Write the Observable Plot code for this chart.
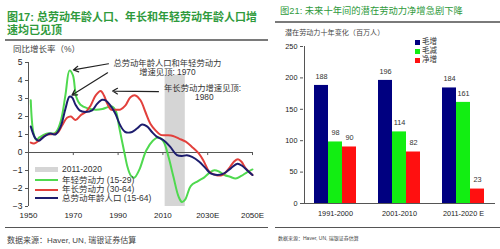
<!DOCTYPE html>
<html><head><meta charset="utf-8">
<script src="https://cdn.jsdelivr.net/npm/d3@7"></script>
<script src="https://cdn.jsdelivr.net/npm/@observablehq/plot@0.6"></script>
<style>
body{margin:0;background:#fff;}
#wrap{position:relative;width:500px;height:249px;overflow:hidden;background:#fff;font-family:"Liberation Sans","Noto Sans CJK SC",sans-serif;color:#333;}
.abs{position:absolute;white-space:nowrap;}
.rule{position:absolute;}
svg{position:absolute;}
</style></head><body><div id="wrap">
<div class="abs" style="left:7px;top:11px;font-size:11px;line-height:12.5px;font-weight:bold;color:#2f9a3c;">图17: 总劳动年龄人口、年长和年轻劳动年龄人口增<br>速均已见顶</div>
<div class="rule" style="left:5px;top:39px;width:263px;height:2px;background:#7a7a7a;"></div>
<div class="abs" style="left:13px;top:44px;font-size:8.5px;line-height:11px;color:#444;">同比增长率（%）</div>
<div class="abs" style="left:280px;top:5px;font-size:9.3px;line-height:12px;color:#2f9a3c;">图21: 未来十年间的潜在劳动力净增急剧下降</div>
<div class="rule" style="left:275px;top:21px;width:225px;height:2px;background:#7a7a7a;"></div>
<div class="abs" style="left:285px;top:28px;font-size:7.1px;line-height:10px;color:#444;">潜在劳动力十年变化（百万人）</div>
<div id="left"></div><div id="right"></div>
<div id="legL"></div><div id="legR"></div>
<div class="rule" style="left:5px;top:227px;width:263px;height:1px;background:#555;"></div>
<div class="rule" style="left:275px;top:227px;width:225px;height:1px;background:#555;"></div>
<div class="abs" style="left:7px;top:236px;font-size:8px;line-height:10px;color:#444;">数据来源：Haver, UN, 瑞银证券估算</div>
<div class="abs" style="left:278px;top:234px;font-size:5px;line-height:8px;color:#444;">数据来源：Haver, UN, 瑞银证券估算</div>
</div>
<script>
// ---------- left chart data ----------
const youngYears = [1951,1952.2,1953.5,1955,1958,1962,1964.3,1966.5,1968.3,1969.8,1971.3,1973.2,1976.5,1980,1983,1985.5,1987.5,1989,1990.5,1992.8,1994.3,1995.8,1997.2,1999.5,2002.5,2005.5,2008,2010.3,2012.5,2014.7,2017,2018.5,2020,2022.5,2025.5,2028.5,2031,2033,2035.2,2037.5,2040,2042.5,2045,2047.5,2050];
const youngVals  = [2.9,1.1,0.7,0.85,1.05,1.1,1.7,3.2,4.55,4.3,3.1,2.65,2.45,2.38,2.42,2.52,2.55,2.3,1.4,0.0,-0.85,-1.3,-1.4,-0.95,0.1,0.65,0.85,0.6,-0.24,-1.35,-2.45,-2.75,-2.6,-1.85,-1.6,-1.38,-1.1,-0.98,-1.07,-1.25,-1.35,-1.44,-1.3,-1.1,-0.94];
const oldYears = [1951,1952.5,1955,1958,1961,1963,1965,1967.2,1969,1971,1973.2,1975.5,1977.7,1980,1982.2,1983.7,1985.2,1986.8,1989,1991,1993.2,1995.5,1997.7,2000,2002.2,2004.4,2006.7,2009,2011.5,2014.5,2017.2,2020.2,2023,2026,2028.3,2030.6,2033.5,2036.5,2039.5,2041.8,2043.5,2045,2047,2050];
const oldVals  = [0.55,0.5,0.7,0.98,1.02,1.1,1.5,1.93,2.0,1.8,2.06,2.25,2.6,3.17,3.42,3.17,2.7,2.38,2.38,2.38,2.6,3.07,3.17,2.9,2.25,1.6,1.23,0.98,0.96,0.92,0.77,0.6,0.31,-0.05,-0.5,-1.05,-1.25,-1.25,-0.88,-0.5,-0.38,-0.5,-0.88,-1.25];
const totalYears = [1951,1953,1954.6,1956.8,1959.8,1962,1964.3,1966.5,1968.3,1969.5,1971,1972.8,1975.4,1978.4,1980.6,1982.9,1984.4,1986.6,1988.8,1991,1993.2,1996.2,1998.4,2000.7,2002.9,2005.1,2007.4,2010.3,2013.3,2016.3,2018.5,2020.7,2023,2026.1,2029.1,2031.3,2034.3,2037.3,2040.3,2043.3,2045.5,2047.7,2050];
const totalVals  = [1.45,0.8,0.65,0.87,1.05,1.0,1.42,2.43,3.1,3.05,2.65,2.34,2.25,2.34,2.7,2.93,2.9,2.6,2.15,1.5,1.14,1.14,1.33,1.55,1.45,1.14,0.87,0.68,0.31,-0.15,-0.2,-0.15,-0.24,-0.5,-0.88,-1.16,-1.25,-1.16,-0.88,-0.62,-0.75,-1.0,-1.25];
const xTickYears = [1950,1970,1990,2010,2030,2050];
const xTickLabels = ["1950","1970","1990","2010","2030E","2050E"];
const yTicksLeft = [-3,-2,-1,0,1,2,3,4,5];
const shadeBand = [{start:2011, end:2020, top:4.3, label:"2011-2020"}];
const seriesLabels = ["年轻劳动力 (15-29)","年长劳动力 (30-64)","总劳动年龄人口 (15-64)"];
const annotationLines = [
  {x:2012, y:4.98, text:"总劳动年龄人口和年轻劳动力"},
  {x:2012, y:4.47, text:"增速见顶: 1970"},
  {x:2027.7, y:3.57, text:"年长劳动力增速见顶:"},
  {x:2028.5, y:3.05, text:"1980"}
];
const arrowStarts = [{x:1985.7,y:4.93},{x:1985.3,y:4.43},{x:2008,y:3.38}];

// ---------- right chart data ----------
const periods = ["1991-2000","2001-2010","2011-2020 E"];
const barSeries = ["毛增","毛减","净增"];
const grossAdd = [188,196,184];
const grossLoss = [98,114,161];
const netAdd = [90,82,23];
const yTicksRight = [0,50,100,150,200,250];

const colGreen="#4fd94f", colRed="#e2403c", colNavy="#1d1d6e";
const barColors=["#000080","#12ee12","#ff1010"];

const toRows=(ys,vs)=>ys.map((y,i)=>({year:y,value:vs[i]}));
const young=toRows(youngYears,youngVals), old=toRows(oldYears,oldVals), total=toRows(totalYears,totalVals);
const peak=(rows,maxYear)=>rows.filter(d=>d.year<maxYear).reduce((a,b)=>b.value>a.value?b:a);
const pY=peak(young,1980), pT=peak(total,1980), pO=peak(old,1990);
const arrows=[
  {x1:arrowStarts[0].x,y1:arrowStarts[0].y,x2:pY.year,y2:pY.value},
  {x1:arrowStarts[1].x,y1:arrowStarts[1].y,x2:pT.year,y2:pT.value},
  {x1:arrowStarts[2].x,y1:arrowStarts[2].y,x2:pO.year,y2:pO.value}
];
const font='"Liberation Sans","Noto Sans CJK SC",sans-serif';

const left = Plot.plot({
  width:262, height:185, marginLeft:28, marginRight:10, marginTop:22, marginBottom:19,
  x:{domain:[1950,2050]}, y:{domain:[-3,5]},
  style:{fontFamily:font, fontSize:"8.5px", color:"#222", background:"transparent", overflow:"visible"},
  marks:[
    Plot.rect(shadeBand,{x1:"start",x2:"end",y1:-3,y2:"top",fill:"#d5d5d5"}),
    Plot.ruleY([0],{stroke:"#555"}),
    Plot.ruleX(xTickYears.slice(1),{x:d=>d,y1:0,y2:-0.17,stroke:"#555"}),
    Plot.ruleX([xTickYears[0]],{x:d=>d,y1:-3,y2:5,stroke:"#555"}),
    Plot.axisY({ticks:yTicksLeft, tickSize:3, tickPadding:3, label:null, stroke:"#555", fill:"#222", fontSize:8.5}),
    Plot.axisX({ticks:xTickYears, tickFormat:d=>xTickLabels[xTickYears.indexOf(d)], tickSize:0, tickPadding:6, label:null, fill:"#222", fontSize:8}),
    Plot.line(young,{x:"year",y:"value",stroke:colGreen,strokeWidth:2,curve:"catmull-rom"}),
    Plot.line(old,{x:"year",y:"value",stroke:colRed,strokeWidth:2,curve:"catmull-rom"}),
    Plot.line(total,{x:"year",y:"value",stroke:colNavy,strokeWidth:2,curve:"catmull-rom"}),
    Plot.arrow([arrows[0]],{x1:"x1",y1:"y1",x2:"x2",y2:"y2",stroke:"#222",strokeWidth:1.2,headLength:7,insetEnd:4}),
    Plot.arrow([arrows[1]],{x1:"x1",y1:"y1",x2:"x2",y2:"y2",stroke:"#222",strokeWidth:1.2,headLength:7,insetEnd:3}),
    Plot.arrow([arrows[2]],{x1:"x1",y1:"y1",x2:"x2",y2:"y2",stroke:"#222",strokeWidth:1.2,headLength:7,insetEnd:12}),
    Plot.text(annotationLines,{x:"x",y:"y",text:"text",fontSize:8.3,fill:"#333"})
  ]
});
left.style.left="0px"; left.style.top="40px";
document.getElementById("left").appendChild(left);

const barRows = periods.flatMap((p,i)=>[
  {p, s:barSeries[0], v:grossAdd[i]},
  {p, s:barSeries[1], v:grossLoss[i]},
  {p, s:barSeries[2], v:netAdd[i]}
]);
const right = Plot.plot({
  width:230, height:185, marginLeft:32, marginRight:5, marginTop:10, marginBottom:18,
  fx:{domain:periods, padding:0, label:null},
  x:{domain:barSeries, paddingInner:0, paddingOuter:0.68, axis:null},
  y:{domain:[0,250]},
  color:{domain:barSeries, range:barColors},
  style:{fontFamily:font, fontSize:"7.3px", color:"#222", background:"transparent", overflow:"visible"},
  marks:[
    Plot.barY(barRows,{fx:"p",x:"s",y:"v",fill:"s"}),
    Plot.text(barRows,{fx:"p",x:"s",y:"v",text:d=>String(d.v),dy:-9,fontSize:7.3,fill:"#333"}),
    Plot.ruleY([0],{stroke:"#555"}),
    Plot.ruleX([periods[0]],{fx:d=>d,x:()=>barSeries[0],y1:0,y2:250,dx:-17,stroke:"#555"}),
    Plot.axisY({ticks:yTicksRight, tickSize:3, tickPadding:3, label:null, stroke:"#555", fill:"#222"}),
    Plot.axisFx({anchor:"bottom", tickSize:0, tickPadding:7, label:null, fill:"#222"})
  ]
});
right.style.left="270px"; right.style.top="36px";
document.getElementById("right").appendChild(right);

// legends
const legL=document.getElementById("legL");
const legItems=[{kind:"band",color:"#d5d5d5",label:shadeBand[0].label},
  {kind:"line",color:colGreen,label:seriesLabels[0]},
  {kind:"line",color:colRed,label:seriesLabels[1]},
  {kind:"line",color:colNavy,label:seriesLabels[2]}];
const legYs=[169,180,189.5,198];
legItems.forEach((it,i)=>{
  const sw=document.createElement("div");
  sw.className="rule";
  const h=it.kind==="band"?5:2;
  sw.style.cssText=`left:35px;top:${legYs[i]-h/2}px;width:23px;height:${h}px;background:${it.color};`;
  legL.appendChild(sw);
  const t=document.createElement("div");
  t.className="abs";
  t.style.cssText=`left:62px;top:${legYs[i]-5.5}px;font-size:8.5px;line-height:11px;color:#333;`;
  t.textContent=it.label;
  legL.appendChild(t);
});
const legR=document.getElementById("legR");
barSeries.forEach((s,i)=>{
  const y=42+i*9.2;
  const sq=document.createElement("div");
  sq.className="rule";
  sq.style.cssText=`left:415px;top:${y-2.5}px;width:5px;height:5px;background:${barColors[i]};`;
  legR.appendChild(sq);
  const t=document.createElement("div");
  t.className="abs";
  t.style.cssText=`left:422px;top:${y-5}px;font-size:7.5px;line-height:10px;color:#333;`;
  t.textContent=s;
  legR.appendChild(t);
});
</script>
</body></html>
